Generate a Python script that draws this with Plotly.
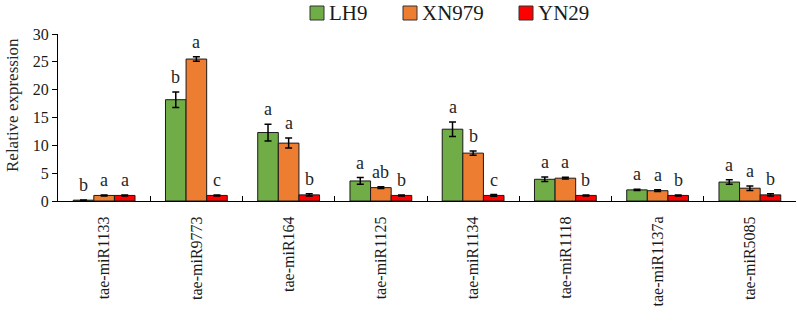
import plotly.graph_objects as go

categories = ["tae-miR1133", "tae-miR9773", "tae-miR164", "tae-miR1125",
              "tae-miR1134", "tae-miR1118", "tae-miR1137a", "tae-miR5085"]
series_names = ["LH9", "XN979", "YN29"]
LH9 = [0.15, 18.2, 12.3, 3.6, 12.9, 3.9, 2.0, 3.4]
LH9_err = [0.05, 1.4, 1.5, 0.6, 1.3, 0.4, 0.1, 0.4]
XN979 = [1.0, 25.5, 10.4, 2.4, 8.6, 4.1, 1.85, 2.3]
XN979_err = [0.1, 0.4, 0.9, 0.15, 0.4, 0.15, 0.15, 0.4]
YN29 = [1.0, 1.0, 1.1, 1.0, 1.0, 1.0, 1.0, 1.1]
YN29_err = [0.1, 0.1, 0.2, 0.1, 0.15, 0.1, 0.1, 0.2]
LH9_sig = ["b", "b", "a", "a", "a", "a", "a", "a"]
XN979_sig = ["a", "a", "a", "ab", "b", "a", "a", "a"]
YN29_sig = ["a", "c", "b", "b", "c", "b", "b", "b"]
colors = ["#70AD47", "#ED7D31", "#FF0000"]

values = [LH9, XN979, YN29]
errors = [LH9_err, XN979_err, YN29_err]
sigs = [LH9_sig, XN979_sig, YN29_sig]

W, H = 797, 329
ML, MR, MT, MB = 58, 1, 34, 128
PW, PH = W - ML - MR, H - MT - MB
FONT = "Liberation Serif"
BARGAP = 0.33


def px_x(px):
    return (px - ML) / PW


def px_y(py):
    return (H - MB - py) / PH


fig = go.Figure()
for name, vals, errs, col in zip(series_names, values, errors, colors):
    fig.add_trace(go.Bar(
        x=categories, y=vals, name=name,
        marker=dict(color=col, line=dict(color="#1a1a1a", width=1)),
        error_y=dict(type="data", array=errs, visible=True,
                     color="#000000", thickness=1.5, width=3.5),
        showlegend=False,
    ))

# significance letters above each bar
bw = (1 - BARGAP) / len(series_names)
annotations = []
for j, (vals, errs, sg) in enumerate(zip(values, errors, sigs)):
    off = (j - (len(series_names) - 1) / 2) * bw
    for i, (v, e, s) in enumerate(zip(vals, errs, sg)):
        annotations.append(dict(
            x=i + off, y=v + e, xref="x", yref="y", text=s,
            showarrow=False, yanchor="bottom", yshift=3,
            font=dict(family=FONT, size=18, color="#262626"),
        ))

# y-axis title
annotations.append(dict(
    x=px_x(12), y=px_y(105), xref="paper", yref="paper",
    text="Relative expression", textangle=-90, showarrow=False,
    xanchor="center", yanchor="middle",
    font=dict(family=FONT, size=17, color="#262626"),
))

# custom legend
legend_marker_x = [310, 403, 519]
shapes = []
for name, col, lx in zip(series_names, colors, legend_marker_x):
    shapes.append(dict(
        type="rect", xref="paper", yref="paper",
        x0=px_x(lx), x1=px_x(lx + 14), y0=px_y(20), y1=px_y(6),
        fillcolor=col, line=dict(color="#333333", width=1),
    ))
    annotations.append(dict(
        x=px_x(lx + 17), y=px_y(13), xref="paper", yref="paper",
        text=name, showarrow=False, xanchor="left", yanchor="middle",
        font=dict(family=FONT, size=21, color="#1a1a1a"),
    ))

fig.update_layout(
    width=W, height=H,
    margin=dict(l=ML, r=MR, t=MT, b=MB, autoexpand=False),
    paper_bgcolor="white", plot_bgcolor="white",
    barmode="group", bargap=BARGAP, bargroupgap=0,
    font=dict(family=FONT, size=16, color="#262626"),
    annotations=annotations, shapes=shapes,
    showlegend=False,
)
fig.update_xaxes(
    type="category", showline=True, linecolor="#000000", linewidth=1,
    ticks="inside", tickson="boundaries", ticklen=5, tickcolor="#000000",
    tickangle=-90, tickfont=dict(family=FONT, size=16, color="#1a1a1a"),
    ticklabelstandoff=8, showgrid=False, automargin=False,
)
fig.update_yaxes(
    range=[0, 30], dtick=5, showline=True, linecolor="#000000", linewidth=1,
    ticks="outside", ticklen=5, tickcolor="#000000", showgrid=False,
    zeroline=False, automargin=False,
    tickfont=dict(family=FONT, size=16, color="#1a1a1a"),
)

fig.write_html(
    "out.html",
    config={"displayModeBar": False},
    post_script="document.body.style.margin='0';document.body.style.overflow='hidden';",
)
